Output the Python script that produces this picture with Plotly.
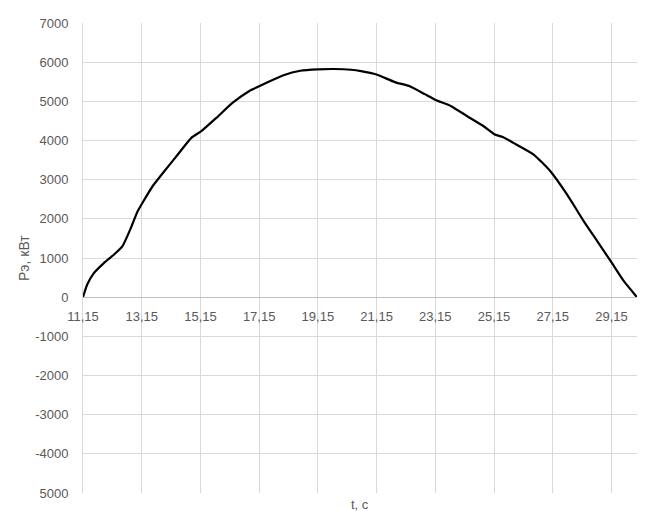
import plotly.graph_objects as go

t_values = [11.15, 11.29, 11.52, 11.86, 12.20, 12.49, 12.78, 13.01, 13.24, 13.52,
            13.92, 14.38, 14.84, 15.18, 15.68, 16.25, 16.83, 17.15, 17.40, 17.98,
            18.55, 19.15, 19.70, 20.28, 20.62, 21.15, 21.77, 22.28, 22.79, 23.16,
            23.69, 24.25, 24.82, 25.16, 25.45, 25.81, 26.50, 27.07, 27.64, 28.21,
            28.67, 29.13, 29.58, 30.02]
p_values = [0, 316, 614, 870, 1083, 1296, 1765, 2192, 2490, 2832,
            3215, 3642, 4068, 4239, 4570, 4965, 5272, 5386, 5474, 5667,
            5781, 5816, 5825, 5807, 5772, 5684, 5491, 5386, 5184, 5035,
            4877, 4614, 4351, 4158, 4090, 3940, 3642, 3215, 2618, 1936,
            1424, 913, 401, 0]

x_tick_vals = [11.15, 13.15, 15.15, 17.15, 19.15, 21.15, 23.15, 25.15, 27.15, 29.15]
x_tick_text = ["11,15", "13,15", "15,15", "17,15", "19,15", "21,15", "23,15", "25,15", "27,15", "29,15"]
y_tick_vals = [-5000, -4000, -3000, -2000, -1000, 0, 1000, 2000, 3000, 4000, 5000, 6000, 7000]
y_tick_text = ["5000", "-4000", "-3000", "-2000", "-1000", "0", "1000", "2000", "3000", "4000", "5000", "6000", "7000"]

x_title = "t, c"
y_title = "Pэ, кВт"

font_family = "Liberation Sans, Arial, sans-serif"
tick_color = "#595959"
grid_color = "#d9d9d9"

fig = go.Figure()
fig.add_trace(go.Scatter(x=t_values, y=p_values, mode="lines",
                         line=dict(color="#000000", width=2.2, shape="spline", smoothing=0.5),
                         showlegend=False, hoverinfo="skip"))

y_min, y_max = -5000, 7000
zero_pos = (0 - y_min) / (y_max - y_min)

fig.update_layout(
    width=663, height=511,
    margin=dict(l=83, r=26, t=23, b=18, autoexpand=False),
    paper_bgcolor="white", plot_bgcolor="white",
    font=dict(family=font_family, size=13, color=tick_color),
    xaxis=dict(range=[11.15, 30.02], tickvals=x_tick_vals, ticktext=x_tick_text,
               showgrid=True, gridcolor=grid_color, gridwidth=1,
               anchor="free", position=zero_pos, automargin=False,
               showline=True, linecolor="#bfbfbf", linewidth=1,
               ticks="", ticklabelstandoff=7, zeroline=False,
               tickfont=dict(size=13, color=tick_color)),
    yaxis=dict(range=[y_min, y_max], tickvals=y_tick_vals, ticktext=y_tick_text,
               showgrid=True, gridcolor=grid_color, gridwidth=1, automargin=False,
               zeroline=False, showline=True, linecolor=grid_color,
               ticks="", ticklabelstandoff=11,
               tickfont=dict(size=13, color=tick_color)),
    annotations=[
        dict(text=x_title, xref="paper", yref="paper", x=0.5, y=0, yshift=-11,
             xanchor="center", yanchor="middle", showarrow=False,
             font=dict(size=13, color=tick_color, family=font_family)),
        dict(text=y_title, xref="paper", yref="paper", x=0, y=0.5, xshift=-59,
             xanchor="center", yanchor="middle", textangle=-90, showarrow=False,
             font=dict(size=14, color=tick_color, family=font_family)),
    ],
)

fig.write_html("out.html", config={"displayModeBar": False, "staticPlot": True})

with open("out.html", "r", encoding="utf-8") as f:
    html = f.read()
html = html.replace("<head>", "<head><style>html,body{margin:0;padding:0;}</style>", 1)
with open("out.html", "w", encoding="utf-8") as f:
    f.write(html)
